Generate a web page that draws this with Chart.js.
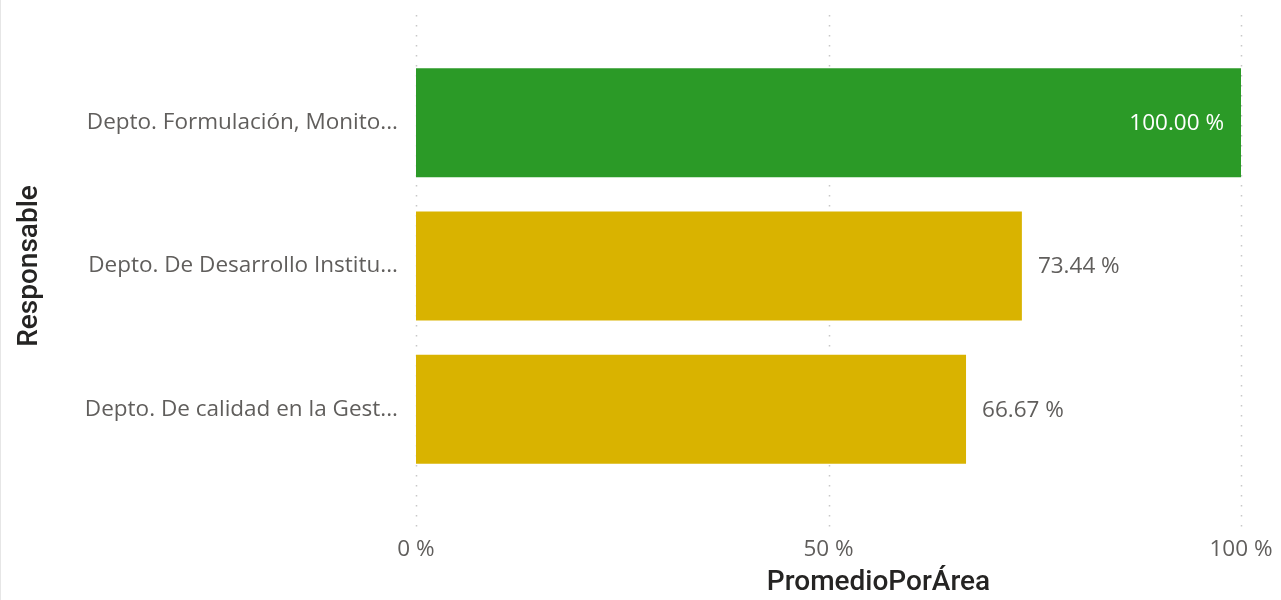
<!DOCTYPE html>
<html>
<head>
<meta charset="utf-8">
<script src="https://cdn.jsdelivr.net/npm/chart.js@4.4.1/dist/chart.umd.min.js"></script>
<style>
  html, body { margin: 0; padding: 0; background: #fff; }
  #wrap { position: relative; width: 1281px; height: 600px; }
  #edge { position: absolute; left: 0; top: 0; width: 1px; height: 600px; background: #e6e6e6; }
</style>
</head>
<body>
<div id="wrap">
  <canvas id="chart" width="1281" height="600"></canvas>
  <div id="edge"></div>
</div>
<script>
// Data
const categories = [
    'Depto. Formulación, Monito...',
    'Depto. De Desarrollo Institu...',
    'Depto. De calidad en la Gest...'
];
const promedio = [100, 73.44, 66.67];
const barColors = ['#2b9a27', '#d9b300', '#d9b300'];
const xTicks = [0, 50, 100];

const LABEL_FONT = '"Open Sans", "Noto Sans", sans-serif';
const TITLE_FONT = 'Roboto, "DejaVu Sans", sans-serif';
const LABEL_SIZE = 22.5;

// Dotted vertical gridlines, taller than the plot area (Power BI style)
const dottedGrid = {
    id: 'dottedGrid',
    beforeDatasetsDraw(chart) {
        const { ctx, scales: { x } } = chart;
        ctx.save();
        ctx.strokeStyle = '#c8c8c8';
        ctx.lineWidth = 1.5;
        ctx.setLineDash([1.5, 8.5]);
        xTicks.forEach(v => {
            const px = Math.round(x.getPixelForValue(v)) + 0.5;
            ctx.beginPath();
            ctx.moveTo(px, 15);
            ctx.lineTo(px, 530);
            ctx.stroke();
        });
        ctx.restore();
    }
};

// Value labels: inside end when the bar is full, outside end otherwise
const valueLabels = {
    id: 'valueLabels',
    afterDatasetsDraw(chart) {
        const { ctx } = chart;
        const meta = chart.getDatasetMeta(0);
        ctx.save();
        ctx.font = LABEL_SIZE + 'px ' + LABEL_FONT;
        ctx.textBaseline = 'middle';
        meta.data.forEach((bar, i) => {
            const text = promedio[i].toFixed(2) + ' %';
            if (promedio[i] >= 95) {
                ctx.fillStyle = '#ffffff';
                ctx.textAlign = 'right';
                ctx.fillText(text, bar.x - 17, bar.y + 1);
            } else {
                ctx.fillStyle = '#605e5c';
                ctx.textAlign = 'left';
                ctx.fillText(text, bar.x + 16, bar.y + 1);
            }
        });
        ctx.restore();
    }
};

// X axis title, drawn a bit right of the axis centre like the original
const xTitle = {
    id: 'xTitle',
    afterDraw(chart) {
        const { ctx, scales: { x } } = chart;
        ctx.save();
        ctx.font = '500 28px ' + TITLE_FONT;
        ctx.fillStyle = '#252423';
        ctx.textAlign = 'center';
        ctx.textBaseline = 'middle';
        ctx.fillText('PromedioPorÁrea', (x.left + x.right) / 2 + 50, 583);
        ctx.restore();
    }
};

new Chart(document.getElementById('chart'), {
    type: 'bar',
    data: {
        labels: categories,
        datasets: [{
            data: promedio,
            backgroundColor: barColors,
            borderWidth: 0,
            categoryPercentage: 1,
            barPercentage: 0.76
        }]
    },
    options: {
        indexAxis: 'y',
        responsive: false,
        animation: false,
        devicePixelRatio: 1,
        layout: { padding: { top: 51, right: 40, left: 0, bottom: 0 } },
        plugins: {
            legend: { display: false },
            tooltip: { enabled: false }
        },
        scales: {
            x: {
                min: 0,
                max: 100,
                afterBuildTicks(scale) {
                    scale.ticks = xTicks.map(v => ({ value: v }));
                },
                afterFit(scale) {
                    scale.height = 119;
                    scale.paddingLeft = 0;
                    scale.paddingRight = 0;
                },
                grid: { display: false, drawTicks: false },
                border: { display: false },
                ticks: {
                    padding: 55,
                    color: '#605e5c',
                    font: { family: LABEL_FONT, size: LABEL_SIZE },
                    maxRotation: 0,
                    callback: v => v + ' %'
                }
            },
            y: {
                afterFit(scale) { scale.width = 416; },
                grid: { display: false, drawTicks: false },
                border: { display: false },
                ticks: {
                    padding: 18,
                    color: '#605e5c',
                    font: { family: LABEL_FONT, size: LABEL_SIZE }
                },
                title: {
                    display: true,
                    text: 'Responsable',
                    color: '#252423',
                    font: { family: TITLE_FONT, size: 28, weight: 500 },
                    padding: { top: 13, bottom: 0 }
                }
            }
        }
    },
    plugins: [dottedGrid, valueLabels, xTitle]
});
</script>
</body>
</html>
